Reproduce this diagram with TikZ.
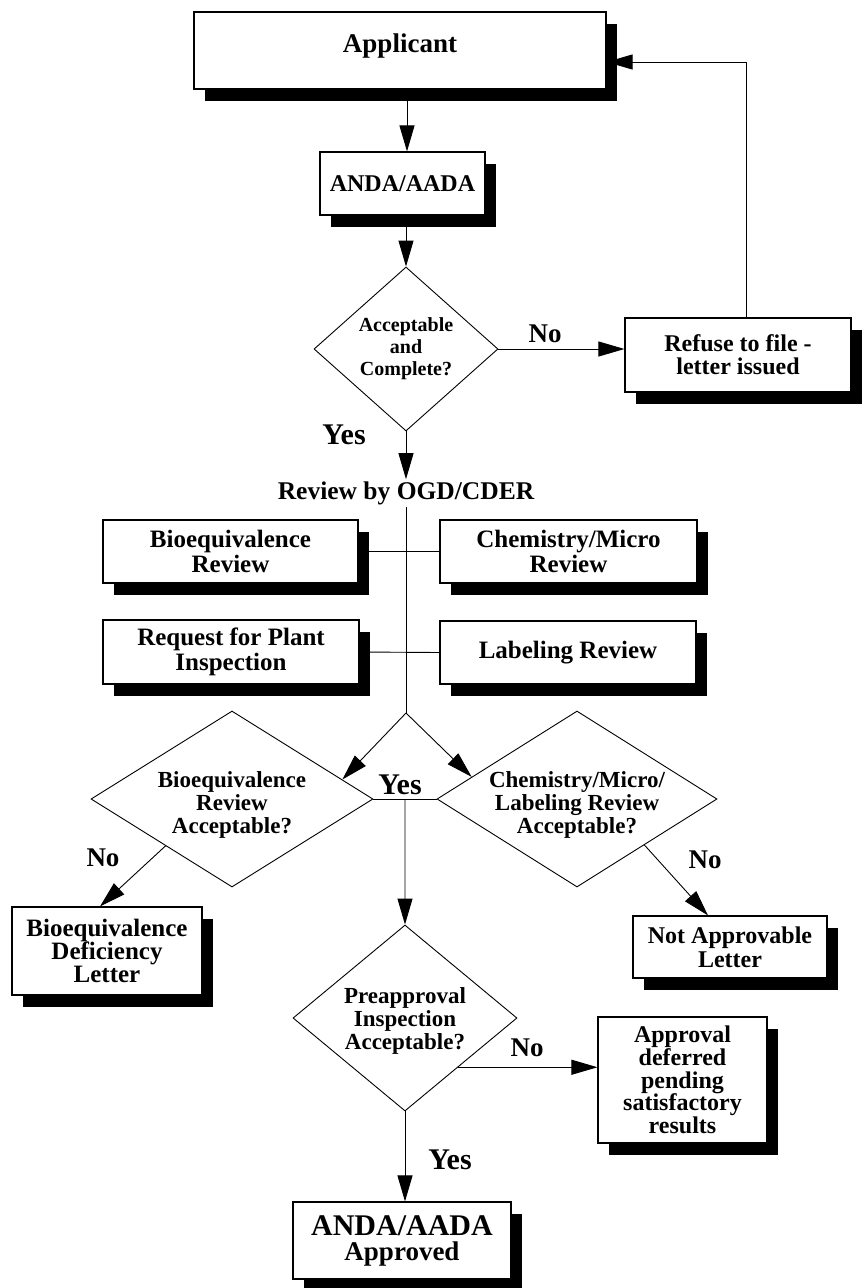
\documentclass[tikz,border=0pt]{standalone}
\usepackage{fontspec}
\setmainfont{Liberation Serif}
\usetikzlibrary{shapes.geometric,arrows.meta,shadows,calc}
\begin{document}
\begin{tikzpicture}[x=1pt,y=-1pt,
  box/.style={draw, line width=1.1pt, fill=white, inner sep=0pt, align=center,
    font=\bfseries\fontsize{25}{25}\selectfont,
    drop shadow={shadow xshift=11pt, shadow yshift=-12pt, fill=black, opacity=1}},
  dia/.style={draw, diamond, line width=0.9pt, inner sep=0pt},
  dtext/.style={align=center, inner sep=0pt, font=\bfseries\fontsize{23}{23}\selectfont},
  lbl/.style={font=\bfseries\fontsize{27}{28}\selectfont, inner sep=0pt},
  ylbl/.style={font=\bfseries\fontsize{30}{30}\selectfont, inner sep=0pt},
  arr/.style={-{Triangle[length=26pt,width=15pt]}, line width=0.9pt},
  ln/.style={line width=0.9pt}]
\useasboundingbox (0,0) rectangle (865,1288);

% nodes
\node[box, minimum width=412pt, minimum height=77pt, font=\bfseries\fontsize{27}{27}\selectfont, text depth=14pt] (app) at (400,50.5) {Applicant};
\node[box, minimum width=165pt, minimum height=63pt, font=\bfseries\fontsize{24}{26}\selectfont] (anda) at (402.5,183.5) {ANDA/AADA};
\node[dia, minimum width=184pt, minimum height=164pt] (d1) at (406,349) {};
\node[dtext, font=\bfseries\fontsize{20}{22}\selectfont] (d1t) at (d1.center) {Acceptable\\and\\Complete?};
\node[box, minimum width=226pt, minimum height=74pt, font=\bfseries\fontsize{24}{23}\selectfont] (refuse) at (738,355) {Refuse to file -\\letter issued};
\node[lbl] (no1) at (545,334) {No};
\node[ylbl] (yes1) at (344,435) {Yes};
\node[font=\bfseries\fontsize{25.5}{26}\selectfont, inner sep=2pt] (rev) at (406,493) {Review by OGD/CDER};
\coordinate (split) at (406,713);
\node[box, minimum width=255pt, minimum height=63pt] (bio) at (230.5,551.5) {Bioequivalence\\Review};
\node[box, minimum width=257pt, minimum height=63pt] (chem) at (568.5,551.5) {Chemistry/Micro\\Review};
\node[box, minimum width=256pt, minimum height=64pt] (req) at (231,652) {Request for Plant\\Inspection};
\node[box, minimum width=256pt, minimum height=63pt] (lab) at (568,652.5) {Labeling Review};
\node[dia, minimum width=282pt, minimum height=176pt] (d2) at (232,799) {};
\node[dtext] (d2t) at ($(d2.center)+(0,6)$) {Bioequivalence\\Review\\Acceptable?};
\node[dia, minimum width=280pt, minimum height=176pt] (d3) at (577,799) {};
\node[dtext] (d3t) at ($(d3.center)+(0,6)$) {Chemistry/Micro/\\Labeling Review\\Acceptable?};
\node[ylbl] (yes2) at (400,785) {Yes};
\coordinate (mid) at ($(d2.east)!0.5!(d3.west)$);
\node[lbl] (no2) at (103,858) {No};
\node[lbl] (no3) at (705,860) {No};
\node[box, minimum width=190pt, minimum height=88pt, font=\bfseries\fontsize{25}{23}\selectfont] (defic) at (107,951) {Bioequivalence\\Deficiency\\Letter};
\node[box, minimum width=194pt, minimum height=62pt, font=\bfseries\fontsize{24}{24}\selectfont] (notapp) at (730,947) {Not Approvable\\Letter};
\node[dia, minimum width=224pt, minimum height=186pt] (d4) at (405,1018) {};
\node[dtext] (d4t) at ($(d4.center)+(0,3)$) {Preapproval\\Inspection\\Acceptable?};
\node[lbl] (no4) at (527,1048) {No};
\node[ylbl] (yes4) at (450,1160) {Yes};
\node[box, minimum width=169pt, minimum height=126pt, font=\bfseries\fontsize{24}{22.75}\selectfont] (defer) at (682.5,1080) {Approval\\deferred\\pending\\satisfactory\\results};
\node[box, minimum width=218pt, minimum height=77pt] (final) at (402,1240.5) {{\fontsize{30}{30}\selectfont ANDA/AADA}\\{\fontsize{27}{27}\selectfont Approved}};

% connectors
\draw[arr] ($(app.south)+(7,0)$) -- ($(anda.north)+(4.5,0)$);
\draw[arr] ($(anda.south)+(3.5,0)$) -- (d1.north);
\draw[arr] (d1.east) -- (refuse.west |- d1.east);
\draw[arr] ($(refuse.north)+(8,0)$) |- ($(app.east)+(0,11.5)$);
\draw[arr] (d1.south) -- (rev.north);
\draw[ln] (rev.south) -- (split);
\draw[ln] (bio.east) -- (chem.west);
\draw[ln] (req.east) -- (lab.west);
\draw[arr] (split) -- ($(d2.north)!0.78!(d2.east)$);
\draw[arr] (split) -- ($(d3.north)!0.75!(d3.west)$);
\draw[ln] (d2.east) -- (d3.west);
\draw[arr] (mid) -- (d4.north);
\draw[arr] ($(d2.west)!0.53!(d2.south)$) -- ($(defic.north)+(-7,0)$);
\draw[arr] ($(d3.east)!0.52!(d3.south)$) -- ($(notapp.north)+(-22,0)$);
\path ($(d4.east)!0.527!(d4.south)$) coordinate (d4no);
\draw[arr] (d4no) -- (d4no -| defer.west);
\draw[arr] (d4.south) -- (d4.south |- final.north);
\end{tikzpicture}
\end{document}
